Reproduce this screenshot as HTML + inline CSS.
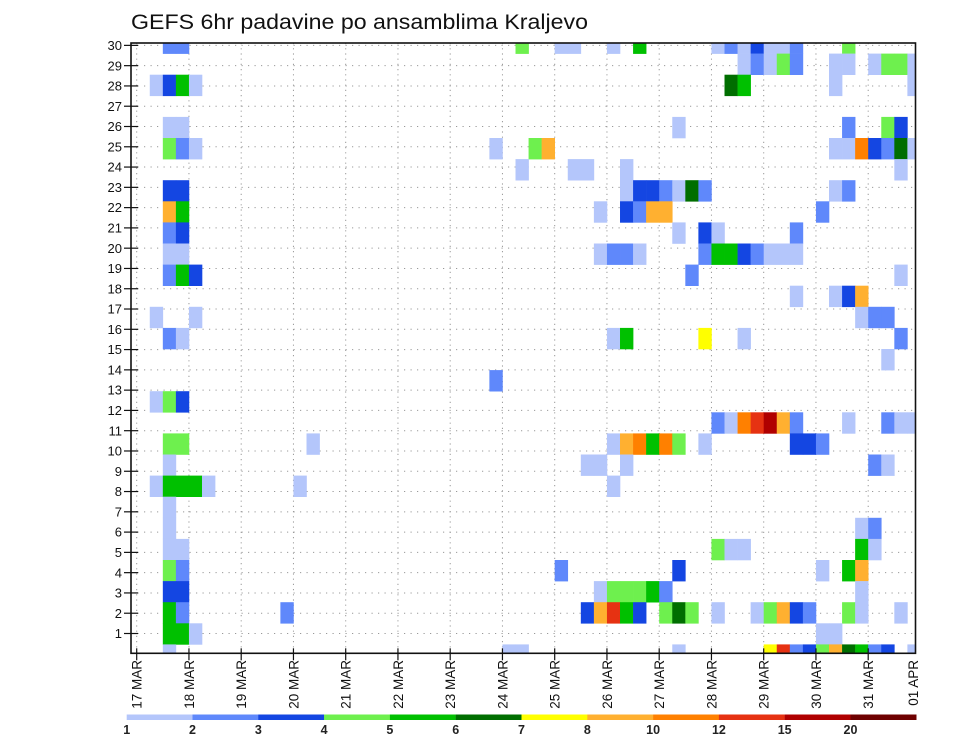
<!DOCTYPE html>
<html><head><meta charset="utf-8"><style>
html,body{margin:0;padding:0;background:#fff;}
svg{display:block;font-family:"Liberation Sans",sans-serif;}
</style></head><body>
<svg id="chart" width="960" height="742" viewBox="0 0 960 742" xmlns="http://www.w3.org/2000/svg">
<text x="131" y="29" font-size="21" fill="#111" textLength="457" lengthAdjust="spacingAndGlyphs">GEFS 6hr padavine po ansamblima Kraljevo</text>
<defs><clipPath id="plotclip"><rect x="131" y="43" width="784.5" height="610.3"/></clipPath></defs>
<g id="grid"></g>
<g id="cells" clip-path="url(#plotclip)"></g>
<rect x="131" y="43" width="784.5" height="610.3" fill="none" stroke="#111" stroke-width="1.6"/>
<g id="yaxis"></g>
<g id="xaxis"></g>
<g id="legend"></g>
</svg>
<script>
const dayLabels = ["17 MAR","18 MAR","19 MAR","20 MAR","21 MAR","22 MAR","23 MAR","24 MAR","25 MAR","26 MAR","27 MAR","28 MAR","29 MAR","30 MAR","31 MAR","01 APR"];
const memberLabels = [1,2,3,4,5,6,7,8,9,10,11,12,13,14,15,16,17,18,19,20,21,22,23,24,25,26,27,28,29,30];
const legendLevels = [1,2,3,4,5,6,7,8,10,12,15,20];
const legendColors = ["#b4c6fb","#5f88fb","#1446e2","#6ef04e","#00c000","#006e00","#ffff00","#ffb030","#ff8000","#e63212","#b00000","#6e0000"];
// [member row index, 6h step index, precip mm]
const cells = [
[29,2,2],[29,3,2],[29,29,4],[29,32,1],[29,33,1],[29,36,1],[29,38,5],[29,44,1],[29,45,2],[29,46,1],[29,47,3],[29,48,1],[29,49,1],[29,50,2],[29,54,4],
[28,46,1],[28,47,2],[28,48,1],[28,49,4],[28,50,2],[28,53,1],[28,54,1],[28,56,1],[28,57,4],[28,58,4],[28,59,1],
[27,1,1],[27,2,3],[27,3,5],[27,4,1],[27,45,6],[27,46,5],[27,53,1],[27,59,1],
[25,2,1],[25,3,1],[25,41,1],[25,54,2],[25,57,4],[25,58,3],
[24,2,4],[24,3,2],[24,4,1],[24,27,1],[24,30,4],[24,31,8],[24,53,1],[24,54,1],[24,55,10],[24,56,3],[24,57,2],[24,58,6],[24,59,1],
[23,29,1],[23,33,1],[23,34,1],[23,37,1],[23,58,1],
[22,2,3],[22,3,3],[22,37,1],[22,38,3],[22,39,3],[22,40,2],[22,41,1],[22,42,6],[22,43,2],[22,53,1],[22,54,2],
[21,2,8],[21,3,5],[21,35,1],[21,37,3],[21,38,2],[21,39,8],[21,40,8],[21,52,2],
[20,2,2],[20,3,3],[20,41,1],[20,43,3],[20,44,1],[20,50,2],
[19,2,1],[19,3,1],[19,35,1],[19,36,2],[19,37,2],[19,38,1],[19,43,2],[19,44,5],[19,45,5],[19,46,3],[19,47,2],[19,48,1],[19,49,1],[19,50,1],
[18,2,2],[18,3,5],[18,4,3],[18,42,2],[18,58,1],
[17,50,1],[17,53,1],[17,54,3],[17,55,8],
[16,1,1],[16,4,1],[16,55,1],[16,56,2],[16,57,2],
[15,2,2],[15,3,1],[15,36,1],[15,37,5],[15,43,7],[15,46,1],[15,58,2],
[14,57,1],
[13,27,2],
[12,1,1],[12,2,4],[12,3,3],
[11,44,2],[11,45,1],[11,46,10],[11,47,12],[11,48,15],[11,49,8],[11,50,2],[11,54,1],[11,57,2],[11,58,1],[11,59,1],
[10,36,1],[10,37,8],[10,38,10],[10,39,5],[10,40,10],[10,41,4],[10,43,1],[10,50,3],[10,51,3],[10,52,2],
[10,2,4],[10,3,4],[10,13,1],
[9,34,1],[9,35,1],[9,37,1],[9,56,2],[9,57,1],
[9,2,1],[8,36,1],
[8,1,1],[8,2,5],[8,3,5],[8,4,5],[8,5,1],[8,12,1],
[7,2,1],
[6,2,1],[6,55,1],[6,56,2],
[5,2,1],[5,3,1],[5,44,4],[5,45,1],[5,46,1],[5,55,5],[5,56,1],
[4,2,4],[4,3,2],[4,32,2],[4,41,3],[4,52,1],[4,54,5],[4,55,8],
[3,2,3],[3,3,3],[3,35,1],[3,36,4],[3,37,4],[3,38,4],[3,39,5],[3,40,2],[3,55,1],
[2,2,5],[2,3,2],[2,11,2],[2,34,3],[2,35,8],[2,36,12],[2,37,5],[2,38,3],[2,40,4],[2,41,6],[2,42,4],[2,44,1],[2,47,1],[2,48,4],[2,49,8],[2,50,3],[2,51,2],[2,54,4],[2,55,1],[2,58,1],
[1,2,5],[1,3,5],[1,4,1],[1,52,1],[1,53,1],
[0,2,1],[0,28,1],[0,29,1],[0,41,1],[0,48,7],[0,49,12],[0,50,2],[0,51,3],[0,52,4],[0,53,8],[0,54,6],[0,55,5],[0,56,2],[0,57,3],[0,59,1]
];

const NS="http://www.w3.org/2000/svg";
const PL=131, PR=915.5, PT=43, PB=653.3;
const X0=136.7, CW=13.0625, DAYW=CW*4;
function xStep(c){return X0+c*CW;}
function xDay(d){return X0+d*DAYW;}
const CH=21.1;
function yCellTop(i){return 644.4-i*CH;}
function yMember(m){return 633.5-(m-1)*20.28;}
function colorFor(v){let k=0;for(let j=0;j<legendLevels.length;j++){if(v>=legendLevels[j])k=j;}return legendColors[k];}
function mk(tag,attrs,parent){const e=document.createElementNS(NS,tag);for(const a in attrs)e.setAttribute(a,attrs[a]);parent.appendChild(e);return e;}

const grid=document.getElementById('grid');
memberLabels.forEach(m=>{
  const l=mk('line',{x1:PL,x2:PR,y1:yMember(m),y2:yMember(m),stroke:'#999','stroke-width':1,'stroke-dasharray':'1.2 5.3'},grid);
  
  
});
dayLabels.forEach((d,i)=>{
  const x=xDay(i); if(x>PR-2)return;
  const l=mk('line',{x1:x,x2:x,y1:PT,y2:PB,stroke:'#999','stroke-width':1,'stroke-dasharray':'1.2 4'},grid);
  
  
});

const cg=document.getElementById('cells');
cells.forEach(([i,c,v])=>{
  const r=mk('rect',{x:xStep(c),y:yCellTop(i),width:CW+0.3,height:CH+0.3,fill:colorFor(v)},cg);
  
  
});

const ya=document.getElementById('yaxis');
memberLabels.forEach(m=>{
  const y=yMember(m);
  const t=mk('line',{x1:124,x2:138,y1:y,y2:y,stroke:'#111','stroke-width':1.2},ya);
  
  
  const tx=mk('text',{x:122,y:y+4.6,'font-size':13,'text-anchor':'end',fill:'#111'},ya);
  tx.textContent=m;
  
  
});

const xa=document.getElementById('xaxis');
dayLabels.forEach((d,i)=>{
  let x=xDay(i);
  if(i<dayLabels.length-1){
    const t=mk('line',{x1:x,x2:x,y1:PB-5,y2:PB+7,stroke:'#111','stroke-width':1.2},xa);
    
    
  } else { x=913; }
  const tx=mk('text',{x:0,y:0,'font-size':13.5,'text-anchor':'end',fill:'#111',transform:`translate(${x+5},660) rotate(-90)`},xa);
  tx.textContent=d;
  
  
});

const lg=document.getElementById('legend');
const LX=126.7, LW=65.8;
legendColors.forEach((col,j)=>{
  const r=mk('rect',{x:LX+j*LW,y:714.5,width:LW+0.2,height:5.5,fill:col},lg);
  
  
});
legendLevels.forEach((lv,j)=>{
  const t=mk('text',{x:LX+j*LW,y:734,'font-size':12.5,'font-weight':'bold','text-anchor':'middle',fill:'#222'},lg);
  t.textContent=lv;
  
  
});
</script>
</body></html>
